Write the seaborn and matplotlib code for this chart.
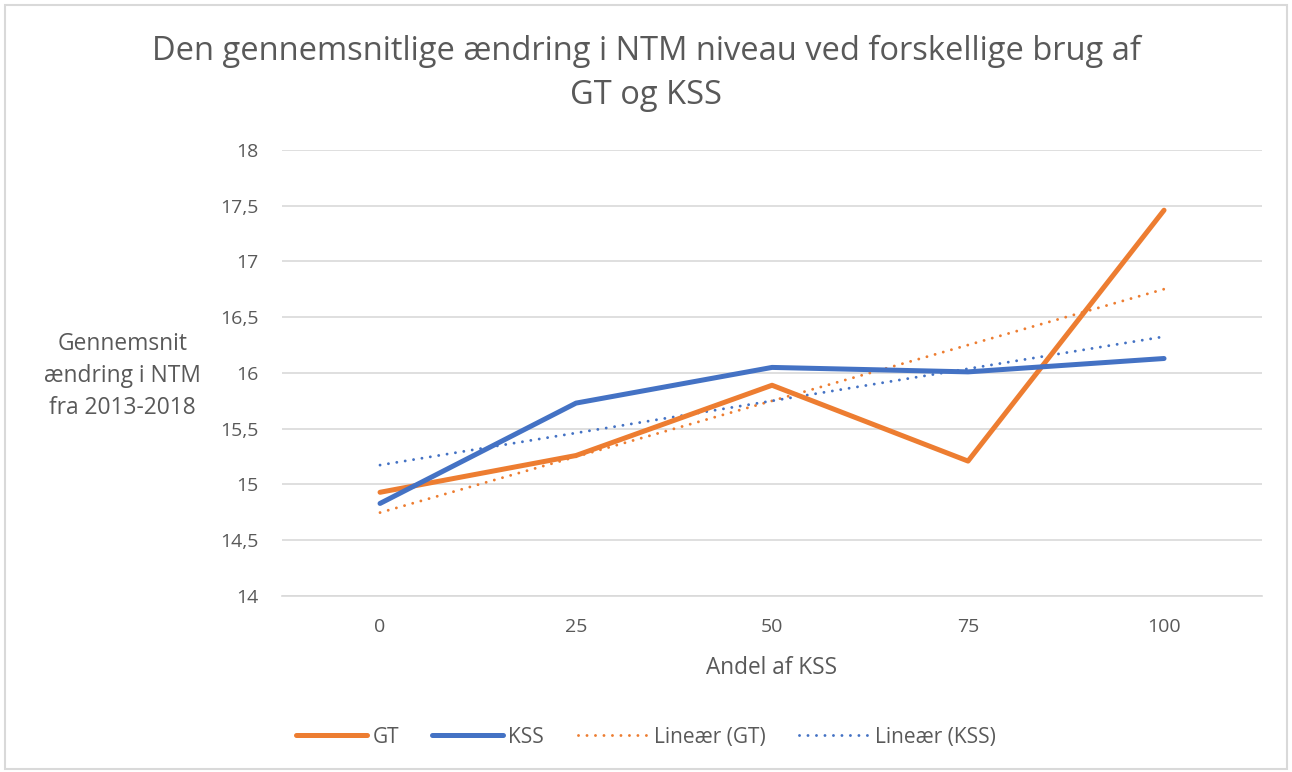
import matplotlib
matplotlib.use("Agg")
import matplotlib.pyplot as plt
from matplotlib.lines import Line2D
from matplotlib.patches import Rectangle
import numpy as np
import pandas as pd
import seaborn as sns

andel = ["0", "25", "50", "75", "100"]
gt = [14.93, 15.26, 15.89, 15.21, 17.46]
kss = [14.83, 15.73, 16.05, 16.01, 16.13]

ORANGE = "#ED7D31"
BLUE = "#4472C4"
TEXT = "#595959"
DOTS = (0, (0.01, 2.9))

sns.set_theme(style="white")
plt.rcParams["font.family"] = ["Open Sans", "DejaVu Sans"]

pos = np.arange(len(andel))
df = pd.DataFrame({
    "pos": np.concatenate([pos, pos]),
    "value": gt + kss,
    "serie": ["GT"] * len(gt) + ["KSS"] * len(kss),
})

fig = plt.figure(figsize=(12.92, 7.72), dpi=100)
fig.add_artist(Rectangle((0.004, 0.004), 0.992, 0.99, transform=fig.transFigure,
                         fill=False, edgecolor="#D9D9D9", linewidth=1.5))
ax = fig.add_axes([0.2183, 0.228, 0.7585, 0.5777])

sns.lineplot(data=df, x="pos", y="value", hue="serie",
             palette={"GT": ORANGE, "KSS": BLUE}, linewidth=3.6,
             legend=False, ax=ax, zorder=3)

# linear trend lines (like Excel's "Lineær")
for vals, col in [(gt, ORANGE), (kss, BLUE)]:
    k, m = np.polyfit(pos, vals, 1)
    sns.lineplot(x=pos, y=k * pos + m, color=col, linewidth=2.1,
                 linestyle=DOTS, dash_capstyle="round", ax=ax, zorder=2)

ax.set_xlim(-0.5, len(andel) - 0.5)
ax.set_ylim(14, 18)
yt = np.arange(14, 18.01, 0.5)
ax.set_yticks(yt)
ax.set_yticklabels([f"{v:g}".replace(".", ",") for v in yt])
ax.set_xticks(pos)
ax.set_xticklabels(andel)
ax.grid(axis="y", color="#D9D9D9", linewidth=1.2)
ax.set_axisbelow(True)
for s in ["top", "right", "left"]:
    ax.spines[s].set_visible(False)
ax.spines["bottom"].set_color("#D9D9D9")
ax.spines["bottom"].set_linewidth(1.2)
ax.tick_params(axis="both", length=0, labelsize=14, labelcolor=TEXT)
ax.tick_params(axis="y", pad=17)
ax.tick_params(axis="x", pad=16)

ax.set_xlabel("Andel af KSS", fontsize=16.3, color=TEXT, labelpad=14)
ax.set_ylabel("")
fig.text(0.095, 0.513, "Gennemsnit\nændring i NTM\nfra 2013-2018", ha="center", va="center",
         fontsize=16.4, color=TEXT, linespacing=1.45)

fig.text(0.5, 0.905, "Den gennemsnitlige ændring i NTM niveau ved forskellige brug af\nGT og KSS",
         ha="center", va="center", fontsize=23.5, color=TEXT, linespacing=1.42)

handles = [
    Line2D([], [], color=ORANGE, lw=3.6, solid_capstyle="round"),
    Line2D([], [], color=BLUE, lw=3.6, solid_capstyle="round"),
    Line2D([], [], color=ORANGE, lw=2.1, linestyle=DOTS, dash_capstyle="round"),
    Line2D([], [], color=BLUE, lw=2.1, linestyle=DOTS, dash_capstyle="round"),
]
fig.legend(handles, ["GT", "KSS", "Lineær (GT)", "Lineær (KSS)"], loc="center",
           bbox_to_anchor=(0.5, 0.045), ncol=4, frameon=False, fontsize=15,
           labelcolor=TEXT, handlelength=3.4, handletextpad=0.25, columnspacing=1.6)

fig.savefig("out.png", dpi=100)
